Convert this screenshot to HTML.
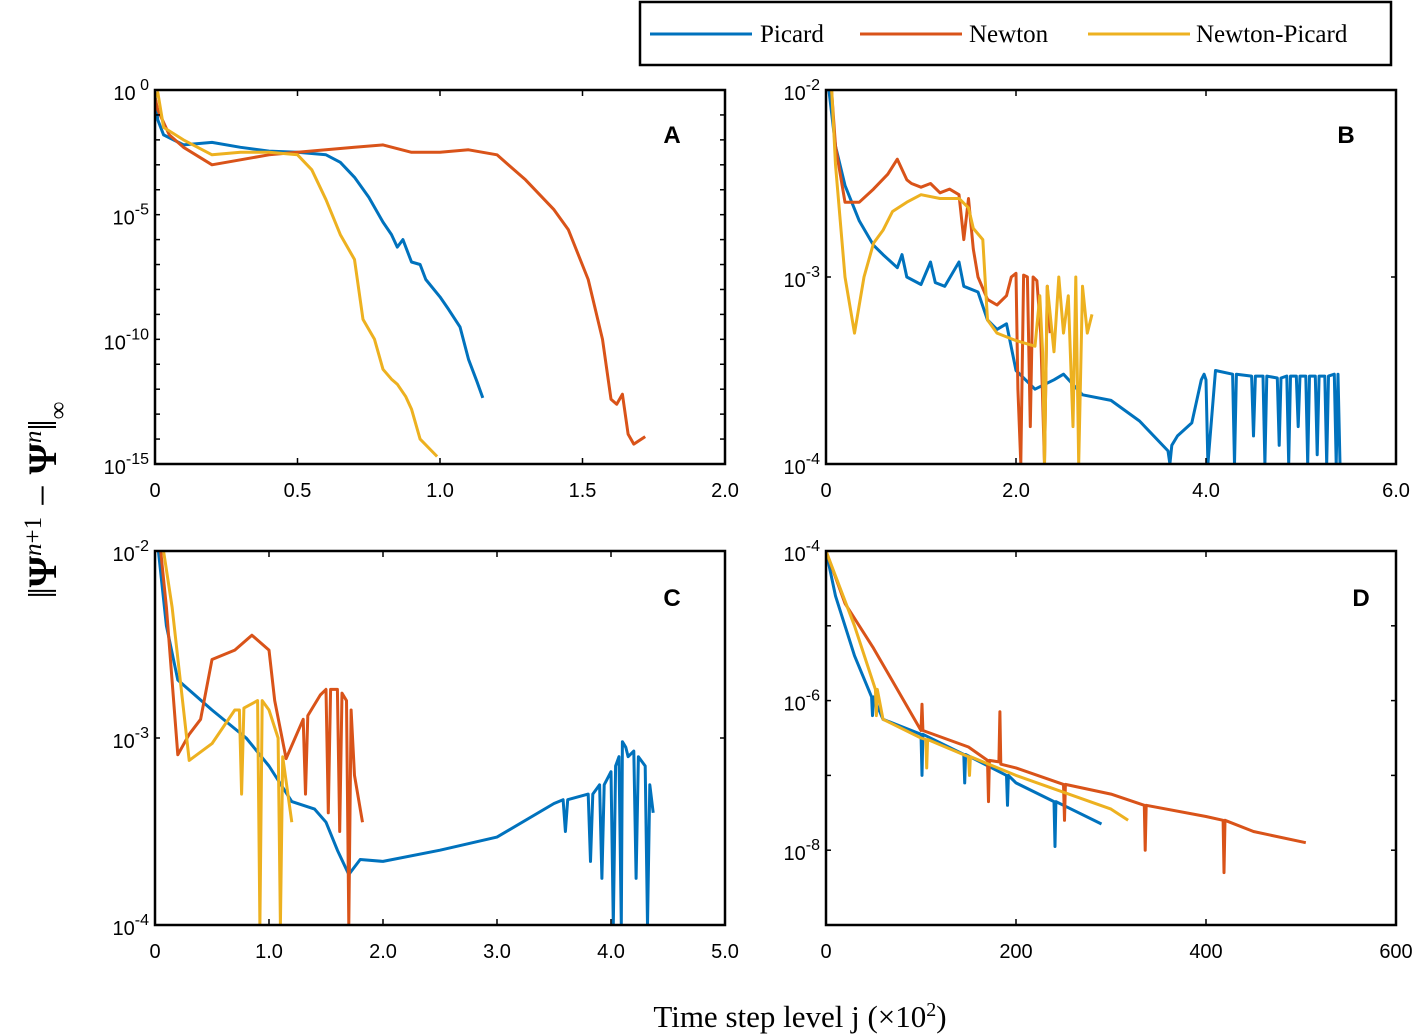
<!DOCTYPE html>
<html><head><meta charset="utf-8">
<style>
body{margin:0;background:#fff;}
svg{display:block;font-family:"Liberation Sans",sans-serif;}
</style></head>
<body>
<svg id="fig" width="1417" height="1035"></svg>
<script>
// ---------- DATA (x in axis units, y as log10 values) ----------
const A_picard_x=[0,0.01,0.03,0.1,0.2,0.3,0.4,0.5,0.6,0.65,0.7,0.75,0.8,0.83,0.85,0.87,0.9,0.93,0.95,1.0,1.03,1.07,1.1,1.13,1.15];
const A_picard_y=[-0.2,-1.2,-1.8,-2.2,-2.1,-2.3,-2.45,-2.5,-2.6,-2.9,-3.5,-4.3,-5.3,-5.8,-6.3,-6.0,-6.9,-7.0,-7.6,-8.3,-8.8,-9.5,-10.8,-11.7,-12.35];
const A_newton_x=[0,0.01,0.05,0.1,0.2,0.3,0.4,0.5,0.6,0.7,0.8,0.9,1.0,1.1,1.2,1.3,1.4,1.45,1.52,1.57,1.6,1.62,1.64,1.66,1.68,1.72];
const A_newton_y=[-0.3,-0.8,-1.8,-2.3,-3.0,-2.8,-2.6,-2.5,-2.4,-2.3,-2.2,-2.5,-2.5,-2.4,-2.6,-3.6,-4.8,-5.6,-7.6,-10,-12.4,-12.6,-12.2,-13.8,-14.2,-13.9];
const A_np_x=[0,0.01,0.03,0.1,0.2,0.3,0.4,0.5,0.55,0.6,0.65,0.7,0.73,0.77,0.8,0.83,0.85,0.88,0.9,0.93,0.99];
const A_np_y=[-0.3,-0.1,-1.5,-2.0,-2.6,-2.5,-2.5,-2.6,-3.2,-4.4,-5.8,-6.8,-9.2,-10,-11.2,-11.6,-11.8,-12.3,-12.8,-14.0,-14.7];

const B_picard_x=[0.03,0.1,0.2,0.35,0.5,0.6,0.75,0.8,0.85,1.0,1.1,1.15,1.25,1.4,1.45,1.5,1.6,1.7,1.8,1.9,2.0,2.1,2.2,2.4,2.5,2.7,3.0,3.3,3.6,3.62,3.64,3.7,3.85,3.95,3.98,4.0,4.02,4.1,4.28,4.3,4.32,4.48,4.5,4.52,4.6,4.62,4.64,4.75,4.77,4.79,4.85,4.87,4.89,4.95,4.97,4.99,5.05,5.07,5.09,5.15,5.17,5.19,5.25,5.27,5.29,5.35,5.37,5.39,5.41];
const B_picard_y=[-2.0,-2.3,-2.51,-2.7,-2.83,-2.88,-2.95,-2.88,-3.0,-3.04,-2.92,-3.03,-3.05,-2.92,-3.05,-3.06,-3.08,-3.23,-3.28,-3.25,-3.5,-3.55,-3.6,-3.55,-3.52,-3.63,-3.66,-3.77,-3.93,-4.0,-3.9,-3.85,-3.78,-3.55,-3.52,-3.55,-4.0,-3.5,-3.52,-4.0,-3.52,-3.53,-3.85,-3.53,-3.53,-4.0,-3.53,-3.54,-3.9,-3.54,-3.53,-4.0,-3.53,-3.53,-3.8,-3.53,-3.53,-4.0,-3.53,-3.53,-3.95,-3.53,-3.53,-4.0,-3.53,-3.52,-4.0,-3.52,-4.0];
const B_newton_x=[0.03,0.1,0.2,0.35,0.5,0.65,0.75,0.85,0.9,1.0,1.1,1.2,1.3,1.4,1.45,1.5,1.55,1.6,1.7,1.8,1.9,1.95,2.0,2.02,2.05,2.08,2.12,2.15,2.18,2.22,2.26,2.3,2.33,2.36];
const B_newton_y=[-1.8,-2.3,-2.6,-2.6,-2.53,-2.45,-2.37,-2.48,-2.5,-2.52,-2.5,-2.55,-2.53,-2.56,-2.8,-2.58,-2.85,-3.0,-3.12,-3.15,-3.1,-3.0,-2.98,-3.6,-4.0,-2.99,-3.0,-3.8,-3.0,-3.02,-3.3,-4.0,-3.05,-3.3];
const B_np_x=[0.03,0.1,0.2,0.3,0.4,0.5,0.6,0.7,0.85,1.0,1.2,1.4,1.5,1.55,1.65,1.7,1.8,2.0,2.2,2.25,2.28,2.3,2.33,2.4,2.45,2.5,2.55,2.6,2.63,2.66,2.7,2.75,2.8];
const B_np_y=[-1.7,-2.4,-3.0,-3.3,-3.0,-2.82,-2.75,-2.65,-2.6,-2.56,-2.58,-2.58,-2.63,-2.74,-2.8,-3.23,-3.3,-3.34,-3.37,-3.1,-3.4,-4.0,-3.05,-3.4,-3.0,-3.3,-3.1,-3.8,-3.0,-4.0,-3.05,-3.3,-3.2];

const C_picard_x=[0.03,0.1,0.2,0.5,0.8,1.0,1.2,1.4,1.5,1.6,1.7,1.8,2.0,2.5,3.0,3.5,3.58,3.6,3.62,3.8,3.82,3.84,3.9,3.92,3.94,4.0,4.02,4.04,4.07,4.09,4.1,4.13,4.15,4.2,4.22,4.24,4.3,4.32,4.34,4.37];
const C_picard_y=[-2.0,-2.4,-2.69,-2.85,-3.0,-3.15,-3.34,-3.38,-3.45,-3.6,-3.73,-3.65,-3.66,-3.6,-3.53,-3.35,-3.33,-3.5,-3.33,-3.3,-3.66,-3.3,-3.25,-3.75,-3.25,-3.18,-4.0,-3.15,-3.1,-4.0,-3.02,-3.05,-3.1,-3.07,-3.75,-3.1,-3.15,-4.0,-3.25,-3.4];
const C_newton_x=[0.05,0.1,0.2,0.3,0.4,0.5,0.7,0.85,1.0,1.05,1.15,1.3,1.32,1.34,1.45,1.5,1.52,1.54,1.6,1.62,1.64,1.68,1.7,1.72,1.75,1.82];
const C_newton_y=[-2.0,-2.3,-3.09,-2.98,-2.9,-2.58,-2.53,-2.45,-2.53,-2.8,-3.11,-2.9,-3.3,-2.88,-2.77,-2.74,-3.4,-2.74,-2.74,-3.5,-2.76,-2.8,-4.0,-2.85,-3.2,-3.45];
const C_np_x=[0.05,0.15,0.3,0.5,0.7,0.74,0.76,0.78,0.9,0.92,0.94,1.0,1.08,1.1,1.12,1.2];
const C_np_y=[-1.9,-2.3,-3.12,-3.03,-2.85,-2.85,-3.3,-2.84,-2.8,-4.0,-2.8,-2.85,-3.0,-4.0,-3.1,-3.45];

const D_picard_x=[0,10,30,48,49,50,60,100,101,102,150,145,146,147,190,191,192,200,240,241,242,250,290];
const D_picard_y=[-4,-4.6,-5.4,-5.95,-6.2,-5.95,-6.25,-6.45,-7.0,-6.45,-6.75,-6.72,-7.1,-6.72,-7.0,-7.4,-7.0,-7.1,-7.35,-7.95,-7.35,-7.4,-7.65];
const D_newton_x=[0,20,50,100,101,102,150,170,171,172,182,183,184,200,250,251,252,300,335,336,337,400,418,419,420,450,505];
const D_newton_y=[-4,-4.7,-5.3,-6.4,-6.05,-6.4,-6.62,-6.8,-7.35,-6.8,-6.82,-6.15,-6.85,-6.9,-7.12,-7.6,-7.12,-7.25,-7.4,-8.0,-7.4,-7.55,-7.6,-8.3,-7.6,-7.75,-7.9];
const D_np_x=[0,30,52,53,54,60,100,105,106,107,150,151,152,200,300,318];
const D_np_y=[-4,-5.0,-5.85,-6.2,-5.85,-6.25,-6.5,-6.52,-6.9,-6.52,-6.75,-7.0,-6.75,-7.0,-7.45,-7.6];

const xticksA=["0","0.5","1.0","1.5","2.0"], xvalsA=[0,0.5,1,1.5,2];
const xticksB=["0","2.0","4.0","6.0"], xvalsB=[0,2,4,6];
const xticksC=["0","1.0","2.0","3.0","4.0","5.0"], xvalsC=[0,1,2,3,4,5];
const xticksD=["0","200","400","600"], xvalsD=[0,200,400,600];

// ---------- DRAW ----------
const NS="http://www.w3.org/2000/svg";
const svg=document.getElementById('fig');
const COL={picard:"#0072BD",newton:"#D95319",np:"#EDB120"};
function mk(tag,attrs,parent){const e=document.createElementNS(NS,tag);for(const k in attrs)e.setAttribute(k,attrs[k]);(parent||svg).appendChild(e);return e;}

const panels=[
 {id:"a",L:155,T:90,W:570,H:374,x0:0,x1:2,y0:-15,y1:0,yt:[0,-5,-10,-15],xv:xvalsA,xl:xticksA,letter:"A",lx:672,ly:143,
  s:[[A_picard_x,A_picard_y,"picard"],[A_newton_x,A_newton_y,"newton"],[A_np_x,A_np_y,"np"]]},
 {id:"b",L:826,T:90,W:570,H:374,x0:0,x1:6,y0:-4,y1:-2,yt:[-2,-3,-4],xv:xvalsB,xl:xticksB,letter:"B",lx:1346,ly:143,
  s:[[B_picard_x,B_picard_y,"picard"],[B_newton_x,B_newton_y,"newton"],[B_np_x,B_np_y,"np"]]},
 {id:"c",L:155,T:551,W:570,H:374,x0:0,x1:5,y0:-4,y1:-2,yt:[-2,-3,-4],xv:xvalsC,xl:xticksC,letter:"C",lx:672,ly:606,
  s:[[C_picard_x,C_picard_y,"picard"],[C_newton_x,C_newton_y,"newton"],[C_np_x,C_np_y,"np"]]},
 {id:"d",L:826,T:551,W:570,H:374,x0:0,x1:600,y0:-9,y1:-4,yt:[-4,-6,-8],xv:xvalsD,xl:xticksD,letter:"D",lx:1361,ly:606,
  s:[[D_picard_x,D_picard_y,"picard"],[D_newton_x,D_newton_y,"newton"],[D_np_x,D_np_y,"np"]]}
];
panels.forEach(p=>{
  const g=mk('g',{});
  
  
  const sx=v=>p.L+(v-p.x0)/(p.x1-p.x0)*p.W;
  const sy=v=>p.T+(p.y1-v)/(p.y1-p.y0)*p.H;
  const cid='clip'+p.id;
  const cp=mk('clipPath',{id:cid},g);mk('rect',{x:p.L,y:p.T,width:p.W,height:p.H},cp);
  p.s.forEach(([xs,ys,k])=>{
    const d=xs.map((x,i)=>(i?'L':'M')+sx(x).toFixed(1)+' '+sy(ys[i]).toFixed(1)).join('');
    const path=mk('path',{d:d,fill:'none',stroke:COL[k],'stroke-width':3,'stroke-linejoin':'round','clip-path':'url(#'+cid+')'},g);
    
    
  });
  const fr=mk('rect',{x:p.L,y:p.T,width:p.W,height:p.H,fill:'none',stroke:'#000','stroke-width':2.5},g);
  
  
  p.xv.forEach((v,i)=>{
    const x=sx(v);
    mk('line',{x1:x,x2:x,y1:p.T+p.H,y2:p.T+p.H-6,stroke:'#000','stroke-width':1.5},g);
    mk('line',{x1:x,x2:x,y1:p.T,y2:p.T+6,stroke:'#000','stroke-width':1.5},g);
    const t=mk('text',{x:x,y:p.T+p.H+33,'text-anchor':'middle','font-size':20},g);
    t.textContent=p.xl[i];
    
    
  });
  for(let v=p.y0;v<=p.y1;v++){
    const y=sy(v);
    mk('line',{x1:p.L,x2:p.L+5,y1:y,y2:y,stroke:'#000','stroke-width':1.5},g);
    mk('line',{x1:p.L+p.W,x2:p.L+p.W-5,y1:y,y2:y,stroke:'#000','stroke-width':1.5},g);
  }
  p.yt.forEach(v=>{
    const y=sy(v);
    const t=mk('text',{x:p.L-6,y:y+10,'text-anchor':'end','font-size':20},g);
    const b=document.createElementNS(NS,'tspan');b.textContent='10';t.appendChild(b);
    const s=document.createElementNS(NS,'tspan');s.setAttribute('dy','-10');s.setAttribute('font-size','16');s.textContent=(v===0?' 0':String(v));t.appendChild(s);
    
    
  });
  const lt=mk('text',{x:p.lx,y:p.ly,'text-anchor':'middle','font-size':24,'font-weight':'bold'},g);
  lt.textContent=p.letter;
  
  
});

const lg=mk('g',{});


mk('rect',{x:640,y:2,width:751,height:63,fill:'#fff',stroke:'#000','stroke-width':2.5},lg);
[["picard","Picard",650,760],["newton","Newton",860,969],["np","Newton-Picard",1088,1196]].forEach(([k,lab,x,tx])=>{
  mk('line',{x1:x,x2:x+102,y1:34,y2:34,stroke:COL[k],'stroke-width':3},lg);
  const t=mk('text',{x:tx,y:42,'font-size':25,'font-family':'"Liberation Serif",serif'},lg);
  t.textContent=lab;
  
  
});

const xt=mk('text',{x:800,y:1027,'text-anchor':'middle','font-size':31,'font-family':'"Liberation Serif",serif'});
xt.innerHTML='Time step level j (×10<tspan dy="-11" font-size="20">2</tspan><tspan dy="11">)</tspan>';


const yt=mk('text',{transform:'translate(56,500) rotate(-90)','text-anchor':'middle','font-size':40,'font-family':'"Liberation Serif",serif'});
yt.innerHTML='‖<tspan font-weight="bold">Ψ</tspan><tspan dy="-15" font-size="25" font-style="italic">n</tspan><tspan font-size="25">+1</tspan><tspan dy="15"> − </tspan><tspan font-weight="bold">Ψ</tspan><tspan dy="-15" font-size="25" font-style="italic">n</tspan><tspan dy="15">‖</tspan><tspan dy="10" font-size="25">∞</tspan>';


</script>
</body></html>
